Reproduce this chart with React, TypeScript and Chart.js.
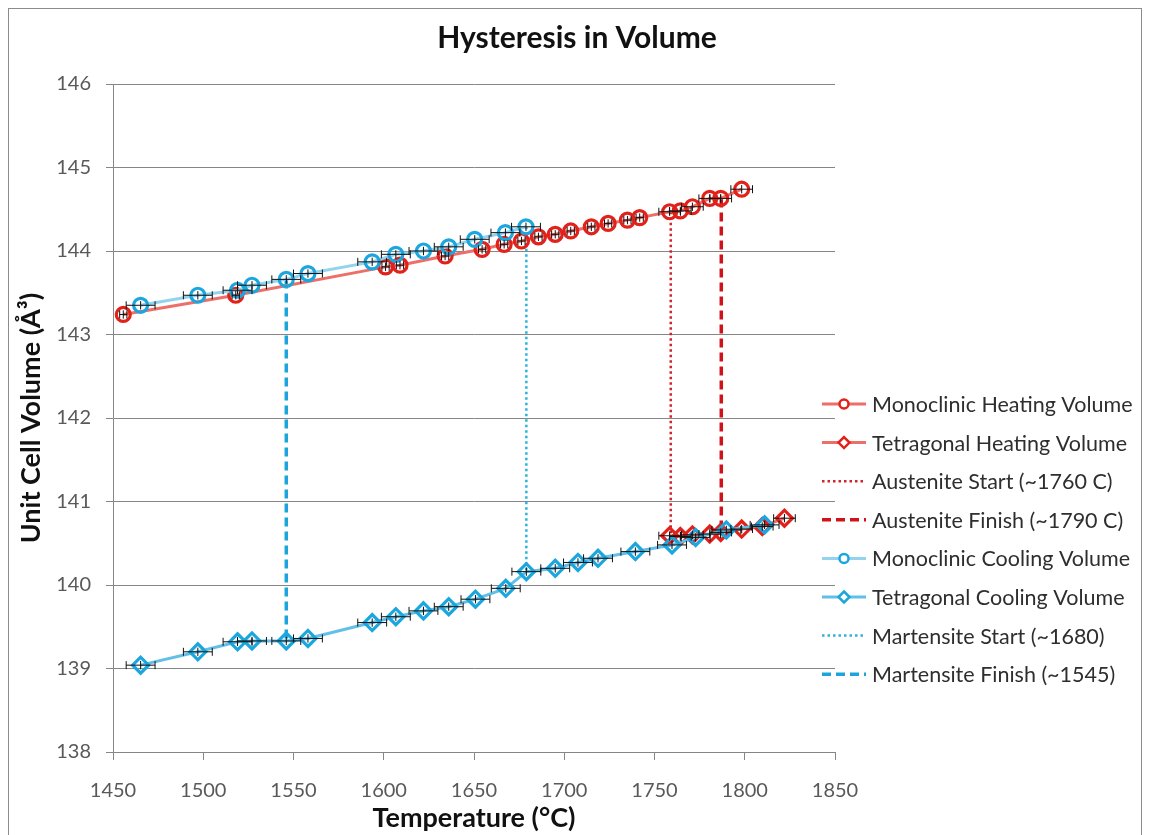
import React, { useEffect, useRef } from "react";
import { Chart, registerables } from "chart.js";

Chart.register(...registerables);

// ---------- data ----------
const monoHeatT = [1455.7, 1518, 1601, 1609, 1634, 1654.5, 1666.7, 1676.3, 1685.7, 1695, 1703.6, 1715, 1724.3, 1735, 1741.8, 1758.4, 1764.3, 1771, 1780.6, 1786.7, 1798.3];
const monoHeatV = [143.24, 143.47, 143.81, 143.83, 143.94, 144.02, 144.08, 144.12, 144.17, 144.2, 144.24, 144.29, 144.33, 144.37, 144.4, 144.47, 144.48, 144.53, 144.63, 144.63, 144.74];
const monoHeatErrT = [2, 2, 2, 2, 2, 2, 2, 2, 2, 2, 2, 2, 2, 2, 2, 6, 6, 6, 6, 6, 6];

const tetHeatT = [1758.4, 1764.3, 1771, 1780.6, 1786.7, 1798.3, 1809.7, 1822];
const tetHeatV = [140.59, 140.58, 140.6, 140.61, 140.63, 140.67, 140.7, 140.8];
const tetHeatErrT = [6, 6, 6, 6, 6, 6, 6, 6];

const monoCoolT = [1465.3, 1497, 1519, 1527, 1546, 1558, 1593.6, 1606.7, 1622, 1636, 1650.4, 1667.4, 1678.8];
const monoCoolV = [143.35, 143.47, 143.53, 143.59, 143.66, 143.73, 143.87, 143.96, 144.0, 144.05, 144.14, 144.22, 144.29];
const monoCoolErrT = [8, 8, 8, 8, 8, 8, 8, 8, 8, 8, 8, 8, 8];

const tetCoolT = [1465.3, 1497, 1519, 1527, 1546, 1558, 1593.6, 1606.7, 1622, 1636, 1650.8, 1667.6, 1679, 1695, 1707.6, 1718.7, 1739.4, 1759.7, 1772.8, 1789.8, 1811];
const tetCoolV = [139.04, 139.2, 139.32, 139.33, 139.33, 139.36, 139.55, 139.62, 139.69, 139.74, 139.83, 139.96, 140.16, 140.2, 140.27, 140.32, 140.4, 140.48, 140.57, 140.66, 140.72];
const tetCoolErrT = [8, 8, 8, 8, 8, 8, 8, 8, 8, 8, 8, 8, 8, 8, 8, 8, 8, 8, 8, 8, 8];

const volErr = 0.05;

const austStartT = [1759, 1759];
const austStartV = [144.47, 140.59];
const austFinishT = [1787, 1787];
const austFinishV = [144.63, 140.62];
const martStartT = [1679, 1679];
const martStartV = [144.29, 140.16];
const martFinishT = [1546, 1546];
const martFinishV = [143.66, 139.33];

const chartTitle = "Hysteresis in Volume";
const xTitle = "Temperature (°C)";
const yTitle = "Unit Cell Volume (Å³)";

const seriesLabels = [
  "Monoclinic Heating Volume",
  "Tetragonal Heating Volume",
  "Austenite Start (~1760 C)",
  "Austenite Finish (~1790 C)",
  "Monoclinic Cooling Volume",
  "Tetragonal Cooling Volume",
  "Martensite Start (~1680)",
  "Martensite Finish (~1545)",
];

const xTickValues = [1450, 1500, 1550, 1600, 1650, 1700, 1750, 1800, 1850];
const yTickValues = [138, 139, 140, 141, 142, 143, 144, 145, 146];

// ---------- styling ----------
const FONT = "Lato, 'Open Sans', sans-serif";
const RED = "#e2211b";
const RED_LINE = "#ec6f69";
const CYAN = "#1ba7de";
const CYAN_LINE_LIGHT = "#93d3ee";
const CYAN_LINE = "#62c0e8";

const toPts = (xs: number[], ys: number[]) => xs.map((x, i) => ({ x, y: ys[i] }));

const errorBarPlugin = {
  id: "errorBars",
  afterDatasetsDraw(chart: any) {
    const { ctx } = chart;
    const xs = chart.scales.x;
    const ys = chart.scales.y;
    ctx.save();
    ctx.strokeStyle = "#111";
    ctx.lineWidth = 1;
    chart.data.datasets.forEach((ds: any) => {
      if (!ds.errT) return;
      ds.data.forEach((p: any, i: number) => {
        const px = xs.getPixelForValue(p.x);
        const py = ys.getPixelForValue(p.y);
        const x0 = xs.getPixelForValue(p.x - ds.errT[i]);
        const x1 = xs.getPixelForValue(p.x + ds.errT[i]);
        const y0 = ys.getPixelForValue(p.y - volErr);
        const y1 = ys.getPixelForValue(p.y + volErr);
        ctx.beginPath();
        ctx.moveTo(x0, py);
        ctx.lineTo(x1, py);
        ctx.moveTo(x0, py - 4);
        ctx.lineTo(x0, py + 4);
        ctx.moveTo(x1, py - 4);
        ctx.lineTo(x1, py + 4);
        ctx.moveTo(px, y0);
        ctx.lineTo(px, y1);
        ctx.stroke();
      });
    });
    ctx.restore();
  },
};

const titlePlugin = {
  id: "manualTitle",
  afterDraw(chart: any) {
    const { ctx } = chart;
    ctx.save();
    ctx.fillStyle = "#111";
    ctx.font = `bold 30px ${FONT}`;
    ctx.textAlign = "center";
    ctx.textBaseline = "alphabetic";
    ctx.fillText(chartTitle, chart.width / 2 + 2, 39);
    ctx.restore();
  },
};

const legendPlugin = {
  id: "customLegend",
  afterDraw(chart: any) {
    const { ctx } = chart;
    const left = chart.chartArea.right - 13;
    const top = 395;
    const step = 38.6;
    ctx.save();
    chart.data.datasets.forEach((ds: any, i: number) => {
      const cy = top + i * step;
      const x0 = left;
      const x1 = left + 44;
      ctx.save();
      ctx.strokeStyle = ds.borderColor;
      ctx.lineWidth = ds.isMarkerLine ? 3 : ds.borderWidth;
      ctx.setLineDash(ds.borderDash || []);
      ctx.beginPath();
      ctx.moveTo(x0, cy);
      ctx.lineTo(x1, cy);
      ctx.stroke();
      ctx.setLineDash([]);
      if (ds.isMarkerLine) {
        const mx = (x0 + x1) / 2;
        ctx.fillStyle = "#fff";
        ctx.strokeStyle = ds.pointBorderColor;
        ctx.lineWidth = 2.5;
        ctx.beginPath();
        if (ds.pointStyle === "circle") {
          ctx.arc(mx, cy, 4.5, 0, Math.PI * 2);
        } else {
          ctx.moveTo(mx, cy - 5.5);
          ctx.lineTo(mx + 5.5, cy);
          ctx.lineTo(mx, cy + 5.5);
          ctx.lineTo(mx - 5.5, cy);
          ctx.closePath();
        }
        ctx.fill();
        ctx.stroke();
      }
      ctx.restore();
      ctx.fillStyle = "#2e2e2e";
      ctx.font = `21.5px ${FONT}`;
      ctx.textBaseline = "middle";
      ctx.textAlign = "left";
      ctx.fillText(ds.label, x1 + 6, cy + 1);
    });
    ctx.restore();
  },
};

export default function App() {
  const ref = useRef<HTMLCanvasElement | null>(null);

  useEffect(() => {
    if (!ref.current) return;
    const markerLine = (label: string, xs: number[], ys: number[], err: number[], style: string, lineColor: string, markerColor: string, order: number) => ({
      label,
      data: toPts(xs, ys),
      errT: err,
      isMarkerLine: true,
      showLine: true,
      borderColor: lineColor,
      borderWidth: 3,
      pointStyle: style,
      pointRadius: style === "circle" ? 7 : 8,
      pointBorderWidth: 3.2,
      pointBorderColor: markerColor,
      pointBackgroundColor: "rgba(255,255,255,0)",
      tension: 0,
      order,
    });
    const vLine = (label: string, xs: number[], ys: number[], color: string, dash: number[], width: number) => ({
      label,
      data: toPts(xs, ys),
      showLine: true,
      borderColor: color,
      borderWidth: width,
      borderDash: dash,
      pointRadius: 0,
      pointHoverRadius: 0,
      order: 2,
    });

    const datasets: any[] = [
      markerLine(seriesLabels[0], monoHeatT, monoHeatV, monoHeatErrT, "circle", RED_LINE, RED, 1),
      markerLine(seriesLabels[1], tetHeatT, tetHeatV, tetHeatErrT, "rectRot", RED_LINE, RED, 1),
      vLine(seriesLabels[2], austStartT, austStartV, "#d3232d", [2.5, 3], 2.5),
      vLine(seriesLabels[3], austFinishT, austFinishV, "#d0131b", [9, 5], 3.5),
      markerLine(seriesLabels[4], monoCoolT, monoCoolV, monoCoolErrT, "circle", CYAN_LINE_LIGHT, CYAN, 0),
      markerLine(seriesLabels[5], tetCoolT, tetCoolV, tetCoolErrT, "rectRot", CYAN_LINE, CYAN, 0),
      vLine(seriesLabels[6], martStartT, martStartV, "#30b3d8", [2.5, 3], 2.5),
      vLine(seriesLabels[7], martFinishT, martFinishV, "#1ca5dc", [9, 5], 3.5),
    ];

    const chart = new Chart(ref.current, {
      type: "scatter",
      data: { datasets },
      plugins: [errorBarPlugin, titlePlugin, legendPlugin],
      options: {
        responsive: false,
        animation: false,
        layout: { padding: { top: 75, right: 306, bottom: 0, left: 0 } },
        plugins: {
          legend: { display: false },
          tooltip: { enabled: false },
          title: { display: false },
        },
        scales: {
          x: {
            type: "linear",
            min: 1450,
            max: 1850,
            afterBuildTicks: (s: any) => {
              s.ticks = xTickValues.map((v) => ({ value: v }));
            },
            afterFit: (s: any) => {
              s.height = 83;
            },
            ticks: {
              color: "#595959",
              font: { family: FONT, size: 20 },
              padding: 19,
              maxRotation: 0,
              callback: (v: any) => String(v),
            },
            grid: { drawOnChartArea: false, drawTicks: true, tickLength: 8, color: "#868686" },
            border: { color: "#868686", width: 1 },
            title: {
              display: true,
              text: xTitle,
              color: "#111",
              font: { family: FONT, size: 27, weight: "bold" },
              padding: { top: 0, bottom: 1 },
            },
          },
          y: {
            type: "linear",
            min: 138,
            max: 146,
            afterBuildTicks: (s: any) => {
              s.ticks = yTickValues.map((v) => ({ value: v }));
            },
            afterFit: (s: any) => {
              s.width = 104;
            },
            ticks: {
              color: "#595959",
              font: { family: FONT, size: 20 },
              padding: 15,
              callback: (v: any) => String(v),
            },
            grid: { color: "#868686", tickLength: 7, lineWidth: 1 },
            border: { color: "#868686", width: 1 },
            title: {
              display: true,
              text: yTitle,
              color: "#111",
              font: { family: FONT, size: 27, weight: "bold" },
              padding: { top: 6, bottom: 0 },
            },
          },
        },
      },
    } as any);
    return () => chart.destroy();
  }, []);

  return (
    <div style={{ width: 1132, height: 840, border: "1px solid #8c8c8c", background: "#fff" }}>
      <canvas ref={ref} width={1132} height={826} style={{ display: "block" }} />
    </div>
  );
}
